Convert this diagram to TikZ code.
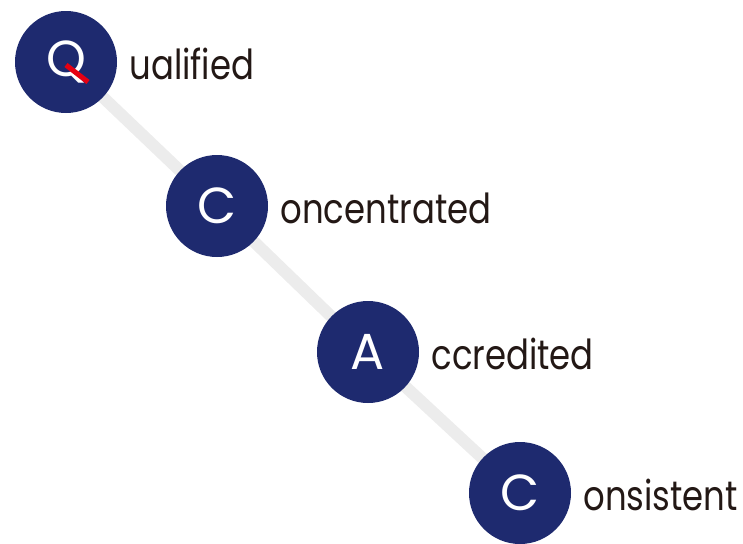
\documentclass[tikz,border=0pt]{standalone}
\usepackage{fontspec}
\setmainfont{Poppins}
\newfontfamily\wordfont{Poppins}[FakeStretch=0.82]
\usetikzlibrary{positioning,backgrounds}

\definecolor{navy}{HTML}{1E2A6F}
\definecolor{ink}{HTML}{231815}
\definecolor{rail}{HTML}{ECECEC}
\definecolor{tailred}{HTML}{E60012}

\begin{document}
\begin{tikzpicture}[x=0.75pt,y=-0.75pt,
  initial/.style={circle, fill=navy, text=white, minimum size=76.5pt,
    inner sep=0pt, font=\fontsize{38}{42}\selectfont},
  word/.style={text=ink, inner sep=0pt, yshift=-1.5pt,
    font=\wordfont\fontsize{31}{36}\selectfont}]
  \useasboundingbox (0,0) rectangle (743,543);

  % Initials
  \node[initial] (q)  at (66,62)   {Q};
  \node[initial] (c1) at (217,206) {C};
  \node[initial] (a)  at (368,352) {A};
  \node[initial] (c2) at (520,493) {C};

  % red tail of the Q
  \draw[tailred, line width=3.8pt] ([shift={(0,3)}]q.center) -- ([shift={(22,20)}]q.center);

  % Rest of each word
  \node[word, right=9pt of q]  (qw)  {ualified};
  \node[word, right=9pt of c1] (c1w) {oncentrated};
  \node[word, right=9pt of a]  (aw)  {ccredited};
  \node[word, right=9pt of c2] (c2w) {onsistent};

  % Grey rail behind the circles
  \begin{scope}[on background layer]
    \draw[rail, line width=9pt] (q.center) -- (c1.center) -- (a.center) -- (c2.center);
  \end{scope}
\end{tikzpicture}
\end{document}
